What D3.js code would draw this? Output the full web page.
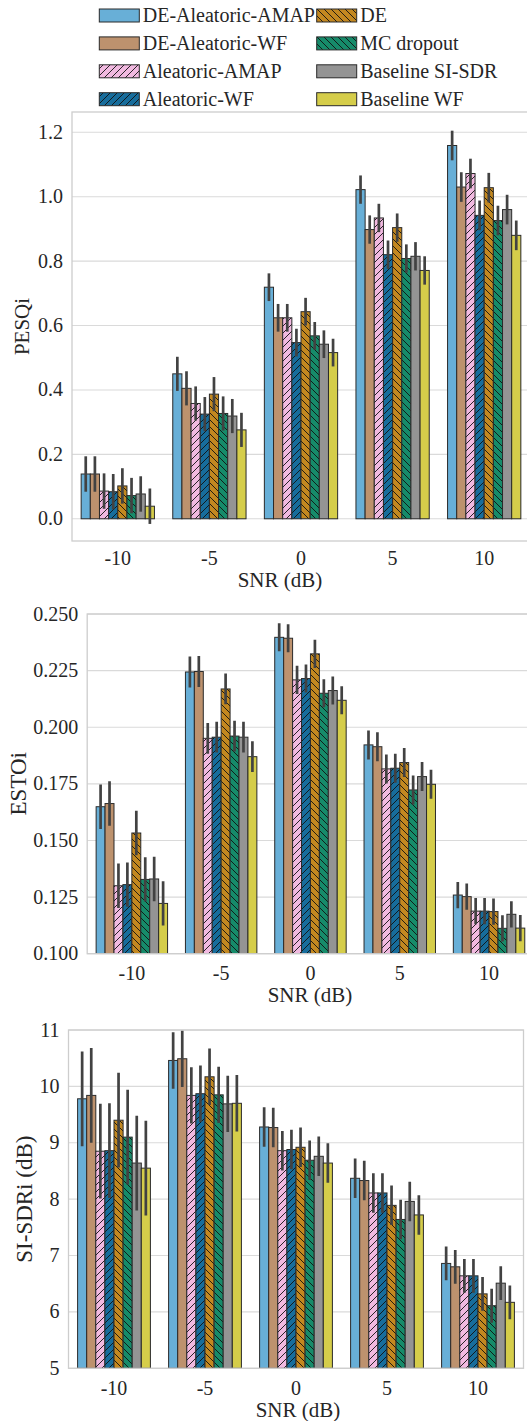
<!DOCTYPE html>
<html>
<head>
<meta charset="utf-8">
<script src="https://cdn.jsdelivr.net/npm/d3@7/dist/d3.min.js"></script>
<style>
  text { font-family: 'Liberation Serif' !important; }
</style>
</head>
<body style="margin:0">
<svg id="chart" width="527" height="1421" font-family="Liberation Serif" style="font-family:'Liberation Serif'"></svg>
<script>
// ---- data ----
const snrLabels = ["-10", "-5", "0", "5", "10"];
const seriesNames = ["DE-Aleatoric-AMAP", "DE-Aleatoric-WF", "Aleatoric-AMAP", "Aleatoric-WF",
  "DE", "MC dropout", "Baseline SI-SDR", "Baseline WF"];
const seriesColors = ["#68afd7", "#bd926e", "#f1b9e0", "#176d9c", "#c38820", "#168b6a", "#949494", "#d5cd4a"];
const seriesHatch = [null, null, "/", "/", "\\", "\\", null, null];

// rows = series (same order as seriesNames), columns = SNR
const pesqMeans = [
  [0.139, 0.450, 0.719, 1.022, 1.159],
  [0.139, 0.405, 0.624, 0.898, 1.030],
  [0.086, 0.358, 0.624, 0.934, 1.072],
  [0.084, 0.325, 0.547, 0.820, 0.942],
  [0.102, 0.387, 0.643, 0.904, 1.028],
  [0.072, 0.327, 0.568, 0.808, 0.926],
  [0.077, 0.319, 0.542, 0.815, 0.960],
  [0.039, 0.276, 0.516, 0.771, 0.880]
];
const pesqErr = [0.055, 0.053, 0.043, 0.044, 0.046];

const estoiMeans = [
  [0.1649, 0.2244, 0.2397, 0.1922, 0.1259],
  [0.1663, 0.2246, 0.2393, 0.1914, 0.1252],
  [0.1300, 0.1951, 0.2209, 0.1816, 0.1188],
  [0.1305, 0.1956, 0.2215, 0.1819, 0.1188],
  [0.1533, 0.2169, 0.2324, 0.1844, 0.1186],
  [0.1328, 0.1961, 0.2150, 0.1723, 0.1112],
  [0.1330, 0.1956, 0.2162, 0.1782, 0.1174],
  [0.1222, 0.1870, 0.2119, 0.1748, 0.1113]
];
const estoiErr = [0.0098, 0.0068, 0.0062, 0.0064, 0.0058];

const sisdrMeans = [
  [9.78, 10.46, 9.28, 8.37, 6.86],
  [9.84, 10.49, 9.27, 8.33, 6.80],
  [8.85, 9.84, 8.86, 8.11, 6.64],
  [8.86, 9.87, 8.88, 8.11, 6.64],
  [9.40, 10.17, 8.92, 7.89, 6.32],
  [9.10, 9.85, 8.69, 7.64, 6.11],
  [8.64, 9.69, 8.76, 7.96, 6.51],
  [8.55, 9.70, 8.64, 7.72, 6.17]
];
const sisdrErr = [0.84, 0.50, 0.35, 0.35, 0.30];

const pesqTicks = [0.0, 0.2, 0.4, 0.6, 0.8, 1.0, 1.2];
const estoiTicks = [0.100, 0.125, 0.150, 0.175, 0.200, 0.225, 0.250];
const sisdrTicks = [5, 6, 7, 8, 9, 10, 11];

// ---- drawing ----
const svg = d3.select("#chart").style("display", "block");
const textColor = "#262626";
const serif = "Liberation Serif";
const defs = svg.append("defs");

seriesColors.forEach((c, i) => {
  if (!seriesHatch[i]) return;
  let p = defs.append("pattern")
    .attr("id", "hatch" + i)
    .attr("patternUnits", "userSpaceOnUse")
    .attr("width", 7).attr("height", 7);
  p.append("rect").attr("width", 7).attr("height", 7).attr("fill", c);
  p.append("path")
    .attr("d", seriesHatch[i] === "/"
      ? "M0,7L7,0M-1,1L1,-1M6,8L8,6"
      : "M0,0L7,7M-1,6L1,8M6,-1L8,1")
    .attr("stroke", "#111").attr("stroke-width", 0.9);
});

function fillFor(i) {
  return seriesHatch[i] ? `url(#hatch${i})` : seriesColors[i];
}

function label(sel, size) {
  return sel.attr("font-size", size).attr("fill", textColor)
    .attr("font-family", serif).style("font-family", serif);
}

function drawPanel(opt) {
  let { means, err, ticks, fmt, left, top, bottom, band, domain, ylabel, ylabelX, ylabelSize, xlabelX } = opt;
  let right = left + band * snrLabels.length;
  let g = svg.append("g");

  let x = d3.scaleBand().domain(snrLabels).range([left, right]).padding(0);
  let inner = d3.scaleBand().domain(d3.range(seriesNames.length))
    .range([band * 0.1, band * 0.9]).padding(0);
  let y = d3.scaleLinear().domain(domain).range([bottom, top]);

  let clipId = "clip" + Math.round(top);
  defs.append("clipPath").attr("id", clipId)
    .append("rect").attr("x", left).attr("y", top).attr("width", right - left).attr("height", bottom - top);

  // grid
  g.append("g").selectAll("line").data(ticks).join("line")
    .attr("x1", left).attr("x2", right)
    .attr("y1", d => y(d)).attr("y2", d => y(d))
    .attr("stroke", "#dadada").attr("stroke-width", 1.1);

  // bars
  let bars = g.append("g").attr("clip-path", `url(#${clipId})`);
  let base = Math.max(domain[0], 0);
  means.forEach((row, si) => {
    row.forEach((v, ci) => {
      bars.append("rect")
        .attr("x", x(snrLabels[ci]) + inner(si)).attr("width", inner.bandwidth())
        .attr("y", y(v)).attr("height", y(base) - y(v))
        .attr("fill", fillFor(si))
        .attr("stroke", "#2a2a2a").attr("stroke-width", 1);
    });
  });
  means.forEach((row, si) => {
    row.forEach((v, ci) => {
      let cx = x(snrLabels[ci]) + inner(si) + inner.bandwidth() / 2;
      bars.append("line")
        .attr("x1", cx).attr("x2", cx)
        .attr("y1", y(v - err[ci])).attr("y2", y(v + err[ci]))
        .attr("stroke", "#424242").attr("stroke-width", 2.7);
    });
  });

  // frame
  g.append("rect")
    .attr("x", left).attr("y", top).attr("width", right - left).attr("height", bottom - top)
    .attr("fill", "none").attr("stroke", "#cdcdcd").attr("stroke-width", 1.3);

  // y tick labels
  label(g.append("g").selectAll("text").data(ticks).join("text"), 20)
    .attr("x", left - 9).attr("y", d => y(d) + 6.5)
    .attr("text-anchor", "end")
    .text(d => fmt(d));

  // x tick labels
  label(g.append("g").selectAll("text").data(snrLabels).join("text"), 20)
    .attr("x", d => x(d) + x.bandwidth() / 2).attr("y", opt.xtickY)
    .attr("text-anchor", "middle")
    .text(d => d);

  label(g.append("text"), 21)
    .attr("x", xlabelX).attr("y", opt.xlabelY)
    .attr("text-anchor", "middle")
    .text("SNR (dB)");

  label(g.append("text"), ylabelSize)
    .attr("transform", `translate(${ylabelX},${(top + bottom) / 2}) rotate(-90)`)
    .attr("text-anchor", "middle")
    .attr("dy", "0.35em")
    .text(ylabel);
}

drawPanel({
  means: pesqMeans, err: pesqErr, ticks: pesqTicks, fmt: d3.format(".1f"),
  left: 72, top: 112, bottom: 541, band: 91.6, domain: [-0.069, 1.263],
  ylabel: "PESQi", ylabelX: 22, ylabelSize: 21, xlabelX: 280,
  xtickY: 565, xlabelY: 587
});

drawPanel({
  means: estoiMeans, err: estoiErr, ticks: estoiTicks, fmt: d3.format(".3f"),
  left: 87.2, top: 614, bottom: 953.7, band: 89.3, domain: [0.1, 0.25],
  ylabel: "ESTOi", ylabelX: 18, ylabelSize: 23, xlabelX: 310,
  xtickY: 979.5, xlabelY: 1002
});

drawPanel({
  means: sisdrMeans, err: sisdrErr, ticks: sisdrTicks, fmt: d3.format("d"),
  left: 68.5, top: 1030, bottom: 1368.3, band: 91, domain: [5, 11],
  ylabel: "SI-SDRi (dB)", ylabelX: 24, ylabelSize: 23, xlabelX: 298,
  xtickY: 1395, xlabelY: 1417
});

// legend, two columns filled top to bottom
const legend = svg.append("g");
const legendCols = [99.3, 316.7];
const rowY = d3.range(4).map(r => 15.5 + r * 27.9);
seriesNames.forEach((name, i) => {
  let col = Math.floor(i / 4), row = i % 4;
  let lx = legendCols[col], ly = rowY[row];
  legend.append("rect")
    .attr("x", lx).attr("y", ly - 6.5).attr("width", 40).attr("height", 13)
    .attr("fill", fillFor(i)).attr("stroke", "#2a2a2a").attr("stroke-width", 1);
  label(legend.append("text"), 20)
    .attr("x", lx + 43.5).attr("y", ly + 6.8)
    .text(name);
});
</script>
</body>
</html>
